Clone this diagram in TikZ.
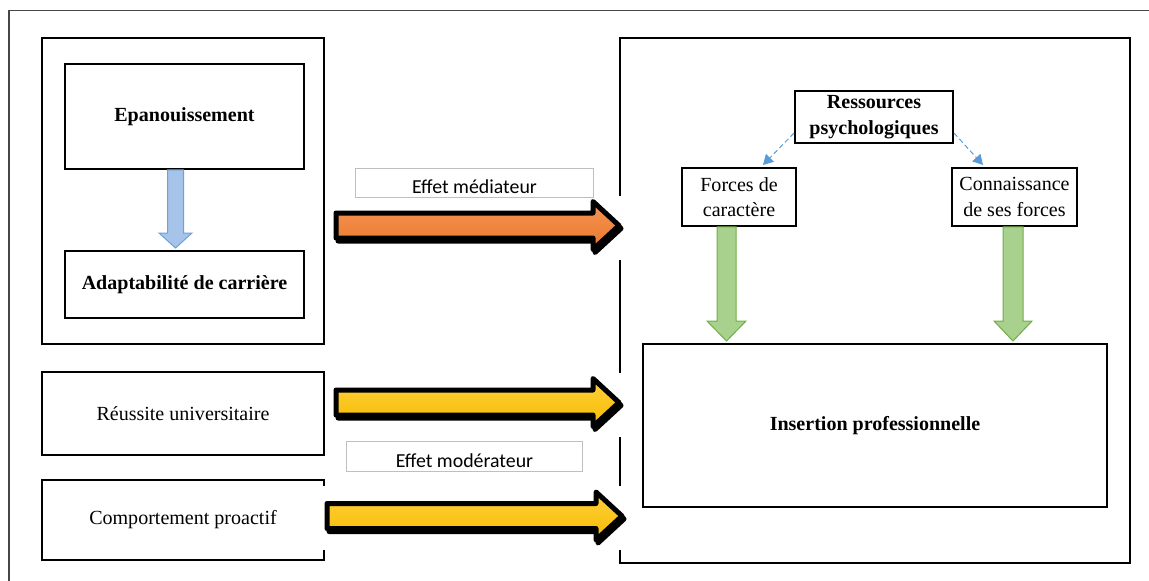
\documentclass[tikz,border=0pt]{standalone}
\usepackage{fontspec}
\setmainfont{Liberation Serif}
\newfontfamily\calibri{Carlito}
\usetikzlibrary{arrows.meta,calc}

\definecolor{framegray}{RGB}{70,70,70}
\definecolor{labelgray}{RGB}{191,191,191}
\definecolor{dashblue}{RGB}{91,155,213}
\definecolor{bluefill}{RGB}{166,196,234}
\definecolor{blueline}{RGB}{112,160,214}
\definecolor{greenfill}{RGB}{169,209,142}
\definecolor{greenline}{RGB}{112,173,71}
\definecolor{orangetop}{RGB}{244,148,88}
\definecolor{orangebot}{RGB}{236,120,40}
\definecolor{yellowtop}{RGB}{255,208,60}
\definecolor{yellowbot}{RGB}{246,188,0}

\tikzset{
  box/.style={rectangle,draw,line width=0.04cm,inner sep=0pt,align=center,
    font=\fontsize{11.4}{14.5}\selectfont},
  effet/.style={rectangle,draw=labelgray,line width=0.02cm,inner sep=0pt,
    font=\calibri\fontsize{11.3}{13}\selectfont},
  dasharrow/.style={draw=dashblue,line width=0.02cm,dash pattern=on 0.1cm off 0.06cm,
    -{Triangle[length=0.2cm,width=0.22cm]}}
}

% block arrow pointing right: tail x, y, tip x
\newcommand{\arrowoutline}[3]{(#1,#2-12.5) -- (#3-26,#2-12.5) -- (#3-26,#2-24) -- (#3,#2) -- (#3-26,#2+24) -- (#3-26,#2+12.5) -- (#1,#2+12.5) -- cycle}
\newcommand{\bigarrow}[4]{%
  \fill[white] (#1-10,#2-30) rectangle (#3+9,#2+34);
  \draw[black,fill=black,line width=0.1cm,line join=round,shift={(2,3)}] \arrowoutline{#1}{#2}{#3};
  \draw[black,top color=#4top,bottom color=#4bot,line width=0.1cm,line join=round] \arrowoutline{#1}{#2}{#3};
}
% block arrow pointing down: from, to, x shift, shaft half, head half, head length, style
\newcommand{\blockdown}[7]{%
  \draw[#7] ($(#1)+(#3-#4,0)$) -- ($(#1 |- #2)+(#3-#4,-#6-2)$) -- ($(#1 |- #2)+(#3-#5,-#6-2)$) -- ($(#1 |- #2)+(#3,-2)$)
    -- ($(#1 |- #2)+(#3+#5,-#6-2)$) -- ($(#1 |- #2)+(#3+#4,-#6-2)$) -- ($(#1)+(#3+#4,0)$) -- cycle;
}

\begin{document}
\begin{tikzpicture}[x=0.02cm,y=-0.02cm]
  \useasboundingbox (0,0) rectangle (1149,581);
  \draw[framegray,line width=0.6pt] (9,600) -- (9,10.5) -- (1170,10.5);

  \node[box,minimum width=5.64cm,minimum height=6.12cm] (leftbox) at (183,191) {};
  \node[box,minimum width=4.78cm,minimum height=2.1cm] (epan) at (184.5,116.5) {\bfseries Epanouissement};
  \node[box,minimum width=4.78cm,minimum height=1.34cm] (adapt) at (184.5,284.5) {\bfseries Adaptabilité de carrière};
  \node[box,minimum width=5.64cm,minimum height=1.66cm] (reussite) at (183,413.5) {Réussite universitaire};
  \node[box,minimum width=5.64cm,minimum height=1.6cm] (proactif) at (183,520) {Comportement proactif};

  \node[box,minimum width=10.2cm,minimum height=10.5cm] (rightbox) at (875,300.5) {};
  \node[box,minimum width=9.28cm,minimum height=3.26cm] (insertion) at (875,425.5) {\bfseries Insertion professionnelle};
  \node[box,minimum width=3.16cm,minimum height=1.04cm] (ressources) at (874,117) {\bfseries Ressources\\ \bfseries psychologiques};
  \node[box,minimum width=2.28cm,minimum height=1.16cm] (forces) at (739,197) {Forces de\\ caractère};
  \node[box,minimum width=2.5cm,minimum height=1.16cm] (connaissance) at (1014.5,197) {Connaissance\\ de ses forces};

  \blockdown{epan.south}{adapt.north}{-9}{8}{16.5}{15}{draw=blueline,fill=bluefill,line width=0.02cm}
  \blockdown{forces.south}{insertion.north}{-12.5}{9.5}{19.5}{20}{draw=greenline,fill=greenfill,line width=0.02cm}
  \blockdown{connaissance.south}{insertion.north}{-1.5}{10}{19}{20}{draw=greenline,fill=greenfill,line width=0.02cm}

  \draw[dasharrow] ($(ressources.south west)+(0,-11)$) -- ($(forces.north)+(24,-2)$);
  \draw[dasharrow] ($(ressources.south east)+(0,-11)$) -- ($(connaissance.north)+(-31.5,-2)$);

  \bigarrow{336}{225.5}{619}{orange}
  \bigarrow{336}{402.5}{619}{yellow}
  \bigarrow{327}{516}{622}{yellow}

  \node[effet,minimum width=4.78cm,minimum height=0.6cm] (mediateur) at (474.5,183) {\raisebox{-2.3pt}[\height][\depth]{Effet médiateur}};
  \node[effet,minimum width=4.74cm,minimum height=0.6cm] (moderateur) at (464.5,456) {\raisebox{-2.5pt}[\height][\depth]{Effet modérateur}};
\end{tikzpicture}
\end{document}
